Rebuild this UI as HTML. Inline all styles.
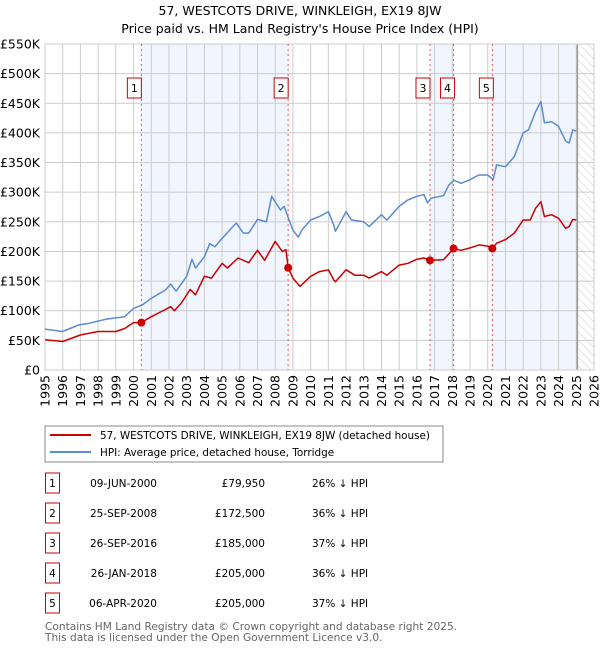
<!DOCTYPE html>
<html><head><meta charset="utf-8"><style>
body{margin:0;background:#fff;font-family:"DejaVu Sans","Liberation Sans",sans-serif;}
svg text{font-family:"DejaVu Sans","Liberation Sans",sans-serif;}
</style></head><body>
<svg id="c" width="600" height="650" xmlns="http://www.w3.org/2000/svg">
<text x="300" y="15" text-anchor="middle" font-size="12.5" fill="#000">57, WESTCOTS DRIVE, WINKLEIGH, EX19 8JW</text>
<text x="300" y="33" text-anchor="middle" font-size="12.5" fill="#000">Price paid vs. HM Land Registry's House Price Index (HPI)</text>
<g id="plot"></g>
<g>
<rect x="45" y="426" width="398" height="36" fill="#fff" stroke="#888" stroke-width="1"/>
<line x1="50" y1="435" x2="91" y2="435" stroke="#cc0000" stroke-width="2"/>
<text x="100" y="439" font-size="10.4">57, WESTCOTS DRIVE, WINKLEIGH, EX19 8JW (detached house)</text>
<line x1="50" y1="452" x2="91" y2="452" stroke="#5b8ccf" stroke-width="2"/>
<text x="100" y="456" font-size="10.4">HPI: Average price, detached house, Torridge</text>
</g>
<g id="table"></g>
<text x="45" y="630" font-size="10.6" fill="#666">Contains HM Land Registry data © Crown copyright and database right 2025.</text>
<text x="45" y="641" font-size="10.6" fill="#666">This data is licensed under the Open Government Licence v3.0.</text>
</svg>
<script>
const hpiYears=[1995,1996,1996.9,1997.5,1998.5,1999.5,2000,2000.5,2001,2001.8,2002.1,2002.4,2003,2003.3,2003.5,2004,2004.3,2004.6,2005,2005.8,2006.2,2006.5,2007,2007.5,2007.8,2008.3,2008.5,2009,2009.3,2009.5,2010,2010.5,2011,2011.3,2011.4,2012,2012.3,2013,2013.3,2014,2014.3,2015,2015.5,2016,2016.4,2016.6,2016.8,2017.5,2017.8,2018.1,2018.5,2019,2019.5,2020,2020.3,2020.5,2021,2021.5,2022,2022.3,2022.7,2023,2023.2,2023.6,2024,2024.4,2024.6,2024.8,2025];
const hpiValues=[69,65,76,79,86,90,104,110,121,135,145,133,158,187,172,191,213,208,222,248,231,231,254,250,293,270,276,236,224,236,253,259,267,245,234,267,253,250,242,262,253,276,287,293,296,282,290,294,312,320,315,321,329,329,321,346,343,360,400,405,436,453,417,419,411,386,383,405,403];
const priceYears=[1995,1996,1997,1998,1999,1999.5,2000,2000.44,2001,2001.8,2002.1,2002.3,2002.7,2003.2,2003.5,2004,2004.4,2005,2005.3,2005.9,2006.5,2007,2007.4,2008,2008.4,2008.6,2008.73,2009,2009.4,2010,2010.5,2011,2011.3,2011.4,2012,2012.5,2013,2013.3,2014,2014.3,2015,2015.5,2016,2016.4,2016.74,2017.5,2018.07,2018.5,2019,2019.5,2020,2020.26,2020.5,2021,2021.5,2022,2022.4,2022.7,2023,2023.2,2023.6,2024,2024.4,2024.6,2024.8,2025];
const priceValues=[51,48,59,65,65,70,80,79.95,90,102,107,100,113,136,127,158,155,180,172,189,181,202,185,217,200,203,172.5,155,141,158,166,169,152,149,169,160,160,155,166,160,177,180,187,189,185,186,205,202,206,211,209,205,214,220,231,253,253,273,284,259,262,256,239,242,254,253];
const saleLabels=["1","2","3","4","5"];
const saleYears=[2000.44,2008.73,2016.74,2018.07,2020.26];
const saleValues=[79.95,172.5,185,205,205];
const saleDates=["09-JUN-2000","25-SEP-2008","26-SEP-2016","26-JAN-2018","06-APR-2020"];
const salePrices=["£79,950","£172,500","£185,000","£205,000","£205,000"];
const saleHpi=["26% ↓ HPI","36% ↓ HPI","37% ↓ HPI","36% ↓ HPI","37% ↓ HPI"];
const yTicks=[0,50,100,150,200,250,300,350,400,450,500,550];
const yTickLabels=["£0","£50K","£100K","£150K","£200K","£250K","£300K","£350K","£400K","£450K","£500K","£550K"];
const xTicks=[1995,1996,1997,1998,1999,2000,2001,2002,2003,2004,2005,2006,2007,2008,2009,2010,2011,2012,2013,2014,2015,2016,2017,2018,2019,2020,2021,2022,2023,2024,2025,2026];
const X0=45,X1=594,Y0=370,Y1=44;
const xs=y=>X0+(y-1995)/31*(X1-X0);
const ys=v=>Y0-v/550*(Y0-Y1);
const NS="http://www.w3.org/2000/svg";
const plot=document.getElementById('plot');
function mk(tag,attrs,parent){const e=document.createElementNS(NS,tag);for(const k in attrs)e.setAttribute(k,attrs[k]);(parent||plot).appendChild(e);return e;}
[[0,1],[2,3],[4,2]].forEach((p,i)=>{
 const a=saleYears[p[0]], b=i==2?2025.06:saleYears[p[1]];
 const r=mk('rect',{x:xs(a),y:Y1,width:xs(b)-xs(a),height:Y0-Y1,fill:'#eef3fc',opacity:0.8});
 
 
});
const defs=mk('defs',{});
const pat=mk('pattern',{id:'h',width:6,height:6,patternUnits:'userSpaceOnUse',patternTransform:'rotate(-45)'},defs);
mk('line',{x1:0,y1:0,x2:0,y2:6,stroke:'#ccc','stroke-width':1},pat);
const hr=mk('rect',{x:xs(2025.06),y:Y1,width:X1-xs(2025.06),height:Y0-Y1,fill:'url(#h)'});


yTicks.forEach((v,i)=>{
 const l=mk('line',{x1:X0,x2:X1,y1:ys(v),y2:ys(v),stroke:'#ccc','stroke-width':1});
 
 
 const t=mk('text',{x:40,y:ys(v)+4.5,'text-anchor':'end','font-size':12.5,fill:'#000'});
 t.textContent=yTickLabels[i];
 
 
});
xTicks.forEach(y=>{
 const l=mk('line',{x1:xs(y),x2:xs(y),y1:Y1,y2:Y0,stroke:'#ccc','stroke-width':1});
 
 
 const t=mk('text',{x:0,y:0,'text-anchor':'end','font-size':12.5,fill:'#000',transform:`translate(${xs(y)+4.5},375) rotate(-90)`});
 t.textContent=y;
 
 
});
const nl=mk('line',{x1:xs(2025.06),x2:xs(2025.06),y1:Y1,y2:Y0,stroke:'#999','stroke-width':1.5});


mk('rect',{x:X0,y:Y1,width:X1-X0,height:Y0-Y1,fill:'none',stroke:'#ccc'});
saleYears.forEach((y,i)=>{
 const l=mk('line',{x1:xs(y),x2:xs(y),y1:Y1,y2:Y0,stroke:'#e05555','stroke-width':1,'stroke-dasharray':'2,3'});
 
 
 const g=mk('g',{});
 
 
 const off=[-4,-4,-4,-3,-3][i];
 mk('rect',{x:xs(y)+off-10,y:78,width:14,height:20,fill:'#fff',stroke:'#cc0000'},g);
 const t=mk('text',{x:xs(y)+off-3,y:92,'text-anchor':'middle','font-size':11},g);
 t.textContent=saleLabels[i];
});
function path(xa,va,col,name){
 const d=xa.map((y,i)=>(i?'L':'M')+xs(y).toFixed(1)+','+ys(va[i]).toFixed(1)).join('');
 const p=mk('path',{d:d,fill:'none',stroke:col,'stroke-width':1.5,'stroke-linejoin':'round'});
 
 
}
path(hpiYears,hpiValues,'#5b8ccf','hpi-line');
path(priceYears,priceValues,'#cc0000','price-line');
saleYears.forEach((y,i)=>{
 const c=mk('circle',{cx:xs(y),cy:ys(saleValues[i]),r:4,fill:'#cc0000'});
 
 
});
const tb=document.getElementById('table');
saleLabels.forEach((l,i)=>{
 const cy=483+30*i;
 const g=mk('g',{},tb);
 
 
 mk('rect',{x:45.5,y:cy-10,width:14,height:20,fill:'#fff',stroke:'#cc0000'},g);
 let t=mk('text',{x:52.5,y:cy+4,'text-anchor':'middle','font-size':10.5},g);t.textContent=l;
 t=mk('text',{x:157,y:cy+4,'text-anchor':'end','font-size':10.5},g);t.textContent=saleDates[i];
 t=mk('text',{x:265,y:cy+4,'text-anchor':'end','font-size':10.5},g);t.textContent=salePrices[i];
 t=mk('text',{x:312,y:cy+4,'font-size':10.5},g);t.textContent=saleHpi[i];
});
</script>
</body></html>
